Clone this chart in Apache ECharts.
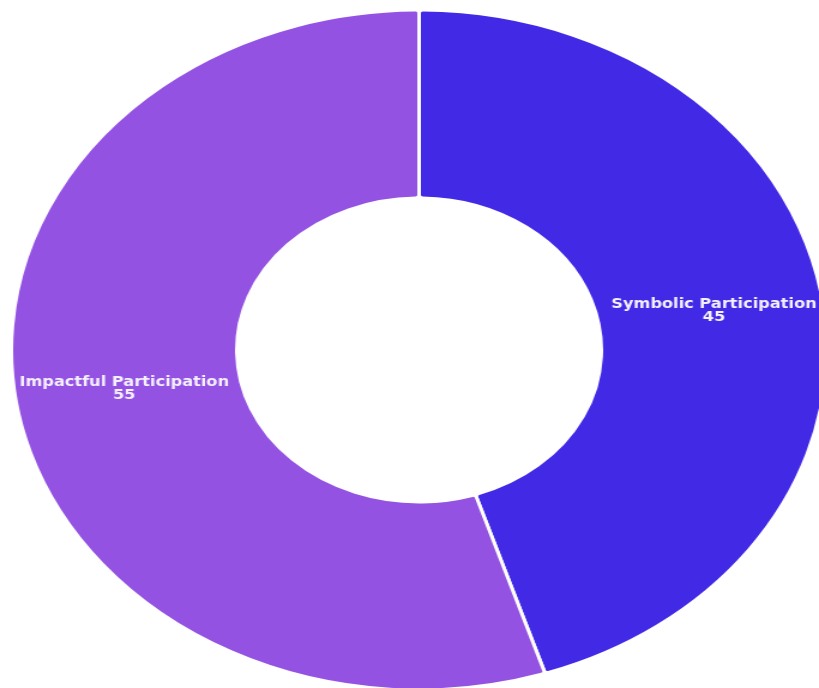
<!DOCTYPE html>
<html>
<head>
<meta charset="utf-8">
<script src="https://cdn.jsdelivr.net/npm/echarts@6/dist/echarts.min.js"></script>
<style>
    html, body { margin: 0; padding: 0; background: #fff; overflow: hidden; }
    /* the reference donut is stretched sideways, so the chart is drawn narrow and scaled */
    #chart { width: 683px; height: 688px; transform: scaleX(1.1991); transform-origin: 0 0; }
</style>
</head>
<body>
<div id="chart"></div>
<script>
const categories = ['Symbolic Participation', 'Impactful Participation'];
const values = [45, 55];
const colors = ['#4229e6', '#9452e3'];

const myChart = echarts.init(document.getElementById('chart'));

let option = {
    animation: false,
    series: [
        {
            type: 'pie',
            center: [349.5, 350],
            radius: [152, 340],
            startAngle: 90,
            clockwise: true,
            itemStyle: {
                borderColor: '#ffffff',
                borderWidth: 3,
                borderRadius: 3
            },
            label: {
                show: true,
                position: 'inside',
                formatter: '{b}\n{c}',
                color: '#f4f0ff',
                fontFamily: 'DejaVu Sans',
                fontWeight: 'bold',
                fontSize: 13.5,
                lineHeight: 13
            },
            labelLine: { show: false },
            data: categories.map((name, i) => ({
                name: name,
                value: values[i],
                itemStyle: { color: colors[i] }
            }))
        }
    ]
};
myChart.setOption(option);
</script>
</body>
</html>
